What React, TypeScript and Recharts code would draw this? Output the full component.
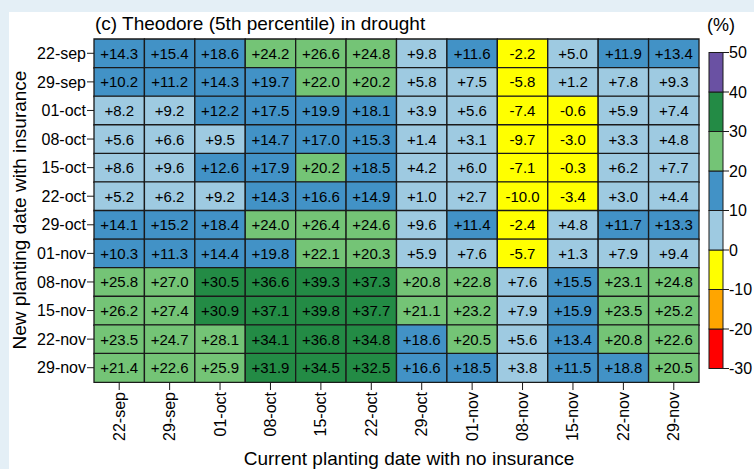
import { Bar, BarChart, Cell, LabelList, XAxis, YAxis } from "recharts";

const plantingDates = [
  "22-sep", "29-sep", "01-oct", "08-oct", "15-oct", "22-oct",
  "29-oct", "01-nov", "08-nov", "15-nov", "22-nov", "29-nov",
];

// one array per new planting date (rows), columns follow plantingDates
const row22sep = [14.3, 15.4, 18.6, 24.2, 26.6, 24.8, 9.8, 11.6, -2.2, 5.0, 11.9, 13.4];
const row29sep = [10.2, 11.2, 14.3, 19.7, 22.0, 20.2, 5.8, 7.5, -5.8, 1.2, 7.8, 9.3];
const row01oct = [8.2, 9.2, 12.2, 17.5, 19.9, 18.1, 3.9, 5.6, -7.4, -0.6, 5.9, 7.4];
const row08oct = [5.6, 6.6, 9.5, 14.7, 17.0, 15.3, 1.4, 3.1, -9.7, -3.0, 3.3, 4.8];
const row15oct = [8.6, 9.6, 12.6, 17.9, 20.2, 18.5, 4.2, 6.0, -7.1, -0.3, 6.2, 7.7];
const row22oct = [5.2, 6.2, 9.2, 14.3, 16.6, 14.9, 1.0, 2.7, -10.0, -3.4, 3.0, 4.4];
const row29oct = [14.1, 15.2, 18.4, 24.0, 26.4, 24.6, 9.6, 11.4, -2.4, 4.8, 11.7, 13.3];
const row01nov = [10.3, 11.3, 14.4, 19.8, 22.1, 20.3, 5.9, 7.6, -5.7, 1.3, 7.9, 9.4];
const row08nov = [25.8, 27.0, 30.5, 36.6, 39.3, 37.3, 20.8, 22.8, 7.6, 15.5, 23.1, 24.8];
const row15nov = [26.2, 27.4, 30.9, 37.1, 39.8, 37.7, 21.1, 23.2, 7.9, 15.9, 23.5, 25.2];
const row22nov = [23.5, 24.7, 28.1, 34.1, 36.8, 34.8, 18.6, 20.5, 5.6, 13.4, 20.8, 22.6];
const row29nov = [21.4, 22.6, 25.9, 31.9, 34.5, 32.5, 16.6, 18.5, 3.8, 11.5, 18.8, 20.5];

const rows = [
  row22sep, row29sep, row01oct, row08oct, row15oct, row22oct,
  row29oct, row01nov, row08nov, row15nov, row22nov, row29nov,
];

const binEdges = [-30, -20, -10, 0, 10, 20, 30, 40, 50];
const binColors = ["#ff0000", "#ffa500", "#ffff00", "#9ecae1", "#4292c6", "#74c476", "#238b45", "#6a51a3"];

const colorFor = (v: number) => {
  for (let i = 0; i < binColors.length; i++) {
    if (v < binEdges[i + 1]) return binColors[i];
  }
  return binColors[binColors.length - 1];
};

const fmt = (v: any) => {
  const n = Number(v);
  return (n > 0 ? "+" : "") + n.toFixed(1);
};

const data = plantingDates.map((d, i) => {
  const o: Record<string, any> = { row: d };
  rows[i].forEach((v, k) => {
    o[`c${k}`] = 1;
    o[`v${k}`] = v;
  });
  return o;
});

const FONT = "'Liberation Sans', Arial, sans-serif";

const XTick = ({ x, y, payload }: any) => (
  <text
    x={x}
    y={y}
    transform={`rotate(-90 ${x} ${y})`}
    textAnchor="end"
    dominantBaseline="central"
    fontSize={16}
    fill="#000"
    fontFamily={FONT}
  >
    {plantingDates[Math.round(payload.value - 0.5)]}
  </text>
);

const ColorBar = () => {
  const top = 52.5;
  const step = 39.5;
  const n = binColors.length;
  return (
    <svg width={754} height={469} style={{ position: "absolute", left: 0, top: 0, pointerEvents: "none" }}>
      {binColors.map((c, i) => (
        <rect
          key={c}
          x={709}
          y={top + (n - 1 - i) * step}
          width={14}
          height={step}
          fill={c}
          stroke="#1a1a1a"
          strokeWidth={1}
        />
      ))}
      {binEdges.map((e, i) => {
        const y = top + (n - i) * step;
        return (
          <g key={e}>
            <line x1={723} x2={729} y1={y} y2={y} stroke="#1a1a1a" />
            <text x={729} y={y} dominantBaseline="central" fontSize={16} fontFamily={FONT} fill="#000">
              {e}
            </text>
          </g>
        );
      })}
      <text x={707} y={31} fontSize={18} fontFamily={FONT} fill="#000">(%)</text>
    </svg>
  );
};

export default function App() {
  return (
    <div style={{ position: "fixed", left: 0, top: 0, width: 754, height: 469, background: "#e4eff6", overflow: "hidden" }}>
      <div style={{ position: "absolute", left: 9, top: 12, width: 745, height: 457, background: "#fff" }} />
      <div style={{ position: "absolute", left: 0, top: 0 }}>
        <BarChart
          width={754}
          height={469}
          data={data}
          layout="vertical"
          barCategoryGap={0}
          barGap={0}
          margin={{ top: 39, right: 55, bottom: 27, left: 14 }}
        >
          <XAxis
            type="number"
            domain={[0, 12]}
            ticks={plantingDates.map((_, i) => i + 0.5)}
            tick={<XTick />}
            tickSize={8}
            tickMargin={2}
            axisLine={false}
            tickLine={{ stroke: "#1a1a1a" }}
            height={60}
            interval={0}
          />
          <YAxis
            type="category"
            dataKey="row"
            width={80}
            tickSize={7}
            tickMargin={1}
            axisLine={false}
            tickLine={{ stroke: "#1a1a1a" }}
            tick={{ fontSize: 16, fill: "#000", fontFamily: FONT }}
            interval={0}
          />
          {plantingDates.map((_, k) => (
            <Bar
              key={k}
              dataKey={`c${k}`}
              stackId="grid"
              isAnimationActive={false}
              stroke="#1a1a1a"
              strokeWidth={1.3}
            >
              {data.map((_, i) => (
                <Cell key={i} fill={colorFor(rows[i][k])} />
              ))}
              <LabelList
                dataKey={`v${k}`}
                position="center"
                formatter={fmt}
                fill="#000"
                fontSize={15}
                fontFamily={FONT}
              />
            </Bar>
          ))}
        </BarChart>
      </div>
      <ColorBar />
      <div style={{ position: "absolute", left: 95, top: 13, fontFamily: FONT, fontSize: 19, color: "#000" }}>
        (c) Theodore (5th percentile) in drought
      </div>
      <div
        style={{
          position: "absolute",
          left: 20,
          top: 210,
          transform: "translate(-50%, -50%) rotate(-90deg)",
          whiteSpace: "nowrap",
          fontFamily: FONT,
          fontSize: 19,
          color: "#000",
        }}
      >
        New planting date with insurance
      </div>
      <div
        style={{
          position: "absolute",
          left: 409,
          top: 459,
          transform: "translate(-50%, -50%)",
          whiteSpace: "nowrap",
          fontFamily: FONT,
          fontSize: 19,
          color: "#000",
        }}
      >
        Current planting date with no insurance
      </div>
    </div>
  );
}
